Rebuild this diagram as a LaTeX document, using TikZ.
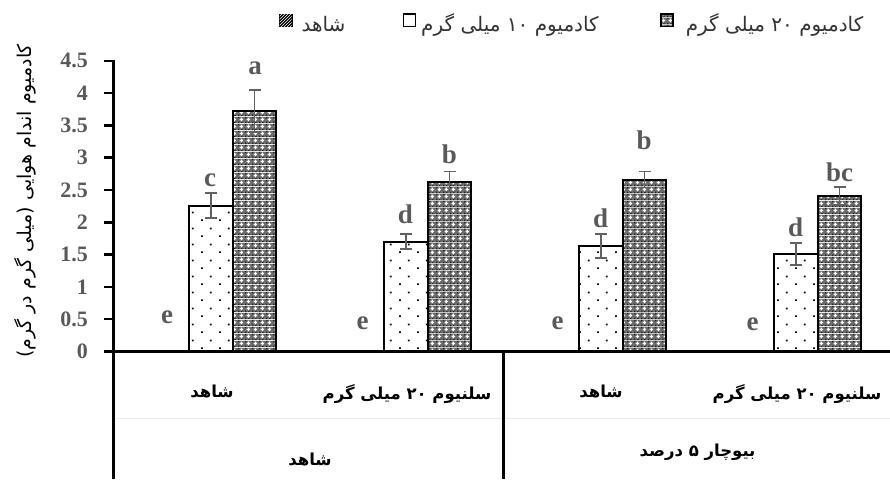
\documentclass[tikz,border=0pt]{standalone}
\usepackage{fontspec}
\setmainfont{Liberation Serif}
\newfontfamily\fa[Script=Arabic]{DejaVu Sans}
\TeXXeTstate=1
\usetikzlibrary{patterns}

\pgfdeclarepatternformonly{sparsedots}{\pgfqpoint{0pt}{0pt}}{\pgfqpoint{18pt}{16pt}}{\pgfqpoint{18pt}{16pt}}{%
  \pgfpathrectangle{\pgfqpoint{3.2pt}{3.2pt}}{\pgfqpoint{1.8pt}{1.8pt}}%
  \pgfpathrectangle{\pgfqpoint{12.2pt}{11.2pt}}{\pgfqpoint{1.8pt}{1.8pt}}%
  \pgfusepath{fill}}

\pgfdeclarepatterninherentlycolored{confetti}{\pgfpointorigin}{\pgfqpoint{6.6pt}{6.6pt}}{\pgfqpoint{6.6pt}{6.6pt}}{%
  \pgfsetfillcolor{black!58}%
  \pgfpathrectangle{\pgfpointorigin}{\pgfqpoint{6.6pt}{6.6pt}}\pgfusepath{fill}%
  \pgfsetfillcolor{black!85}%
  \pgfpathrectangle{\pgfpointorigin}{\pgfqpoint{1.4pt}{1.4pt}}%
  \pgfpathrectangle{\pgfqpoint{3.3pt}{0pt}}{\pgfqpoint{1.4pt}{1.4pt}}%
  \pgfpathrectangle{\pgfqpoint{0pt}{5pt}}{\pgfqpoint{1.4pt}{1.4pt}}%
  \pgfusepath{fill}%
  \pgfsetfillcolor{white}%
  \pgfpathrectangle{\pgfqpoint{2.9pt}{1.8pt}}{\pgfqpoint{1.3pt}{3.8pt}}%
  \pgfpathrectangle{\pgfqpoint{1.6pt}{3.1pt}}{\pgfqpoint{3.8pt}{1.3pt}}%
  \pgfusepath{fill}}

\tikzset{
  barline/.style={draw=black, line width=2pt},
  errbar/.style={draw=black!62, line width=1.6pt},
  siglab/.style={font=\fontsize{27}{27}\selectfont\bfseries, text=black!65, inner sep=0pt},
  ticklab/.style={font=\fontsize{22}{22}\selectfont\bfseries, text=black!65, inner sep=0pt, anchor=east},
  catlab/.style={font=\fa\bfseries\fontsize{16.5}{16.5}\selectfont, inner sep=0pt, anchor=base},
  leglab/.style={font=\fa\fontsize{20}{20}\selectfont, text=black!80, inner sep=0pt, anchor=base},
  axisline/.style={line width=3pt},
  tickline/.style={line width=2.5pt},
}

\begin{document}
\begin{tikzpicture}[x=1pt,y=-1pt]
\useasboundingbox (0,0) rectangle (890,479);

% faint separator between category rows
\draw[black!8, line width=0.8pt] (113,418) -- (890,418);

% bars
\foreach \gc/\ta/\ea/\tb/\eb in {211/205.5/12.5/111/21, 406/241.5/7.5/181.5/10, 601/246/12/179.5/8, 796/254/11/196/9}{
  \fill[white] (\gc-22,351.5) rectangle (\gc+21.5,\ta);
  \fill[pattern=sparsedots] (\gc-22,351.5) rectangle (\gc+21.5,\ta);
  \draw[barline] (\gc-22,351.5) rectangle (\gc+21.5,\ta);
  \fill[pattern=confetti] (\gc+21.5,351.5) rectangle (\gc+65,\tb);
  \draw[barline] (\gc+21.5,351.5) rectangle (\gc+65,\tb);
  \draw[errbar] (\gc,\ta-\ea) -- (\gc,\ta+\ea);
  \draw[errbar] (\gc-6,\ta-\ea) -- (\gc+6,\ta-\ea);
  \draw[errbar] (\gc-6,\ta+\ea) -- (\gc+6,\ta+\ea);
  \draw[errbar] (\gc+43.5,\tb-\eb) -- (\gc+43.5,\tb+\eb);
  \draw[errbar] (\gc+37.5,\tb-\eb) -- (\gc+49.5,\tb-\eb);
  \draw[errbar] (\gc+37.5,\tb+\eb) -- (\gc+49.5,\tb+\eb);
}

% axes
\draw[axisline] (104,351.5) -- (890,351.5);
\draw[axisline] (113,60) -- (113,479);
\draw[axisline] (503.5,351.5) -- (503.5,479);
\foreach \i in {0,...,9}{
  \draw[tickline] (104,351.5-32.3*\i) -- (113,351.5-32.3*\i);
}
\foreach \i/\t in {0/0,1/0.5,2/1,3/1.5,4/2,5/2.5,6/3,7/3.5,8/4,9/4.5}{
  \node[ticklab] (tick\i) at (88,351.5-32.3*\i) {\t};
}

% significance letters
\node[siglab] (s1e) at (167,317) {e};
\node[siglab] (s1c) at (210,180) {c};
\node[siglab] (s1a) at (255,68) {a};
\node[siglab] (s2e) at (362.5,323) {e};
\node[siglab] (s2d) at (405.5,214) {d};
\node[siglab] (s2b) at (449.5,154) {b};
\node[siglab] (s3e) at (557.5,323) {e};
\node[siglab] (s3d) at (600.5,218) {d};
\node[siglab] (s3b) at (644,140) {b};
\node[siglab] (s4e) at (752.5,324) {e};
\node[siglab] (s4d) at (795.5,227) {d};
\node[siglab] (s4bc) at (839.5,172) {bc};

% category labels
\node[catlab] (c1) at (212,397) {\beginR شاهد\endR};
\node[catlab] (c2) at (407,399) {\beginR سلنیوم ۲۰ میلی گرم\endR};
\node[catlab] (c3) at (601,397) {\beginR شاهد\endR};
\node[catlab] (c4) at (797,399) {\beginR سلنیوم ۲۰ میلی گرم\endR};
\node[catlab] (g1) at (310,465) {\beginR شاهد\endR};
\node[catlab] (g2) at (697.5,456) {\beginR بیوچار ۵ درصد\endR};

% y axis title
\node[font=\fa\fontsize{19}{19}\selectfont, rotate=90, inner sep=0pt] (ytitle) at (25,201) {\beginR کادمیوم اندام هوایی (میلی گرم در گرم)\endR};

% legend
\fill[black] (278.5,13.5) rectangle (292.5,27);
\fill[pattern=north east lines, pattern color=white] (279.5,14.5) rectangle (291.5,26);
\node[leglab] (l0) at (323.5,31) {\beginR شاهد\endR};
\draw[fill=white, line width=1.8pt] (403.5,14) rectangle (415.5,26.5);
\node[leglab] (l1) at (510,31) {\beginR کادمیوم ۱۰ میلی گرم\endR};
\fill[pattern=confetti] (661,14) rectangle (673,26.5);
\draw[line width=1.5pt] (661,14) rectangle (673,26.5);
\node[leglab] (l2) at (774.5,31) {\beginR کادمیوم ۲۰ میلی گرم\endR};
\end{tikzpicture}
\end{document}
